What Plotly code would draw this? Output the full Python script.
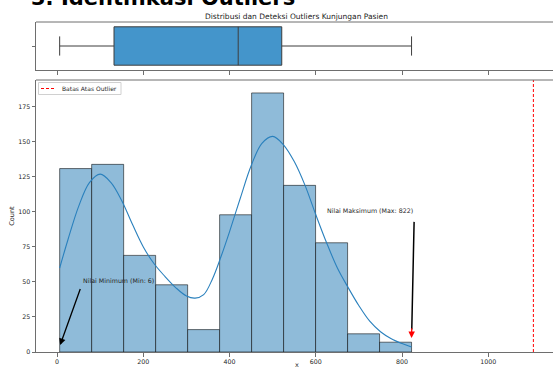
import numpy as np
import plotly.graph_objects as go

# ---------------- data ----------------
data_min = 6
data_max = 822
q1 = 132
median = 420
q3 = 521
bin_counts = [131, 134, 69, 48, 16, 98, 185, 119, 78, 13, 7]

kde_x = [6, 25, 50, 75, 100, 125, 150, 175, 200, 225, 250, 275, 300, 320, 340,
         360, 380, 400, 425, 450, 475, 500, 525, 550, 575, 600, 625, 650, 675,
         700, 725, 750, 775, 800, 822]
kde_y = [60, 80, 104, 121, 127, 121, 108, 91, 75, 63, 54, 46, 40, 38.5, 41,
         52, 68, 86, 110, 133, 149, 154, 148, 136, 119, 98, 78, 60, 46,
         33, 22, 14.5, 9.5, 6, 3.5]

x_ticks = [0, 200, 400, 600, 800, 1000]
y_ticks = [0, 25, 50, 75, 100, 125, 150, 175]

title_text = "Distribusi dan Deteksi Outliers Kunjungan Pasien"
header_text = "3. Identifikasi Outliers"
legend_label = "Batas Atas Outlier"

# ---------------- derived ----------------
iqr = q3 - q1
upper_bound = q3 + 1.5 * iqr
edges = np.linspace(data_min, data_max, len(bin_counts) + 1)
centers = (edges[:-1] + edges[1:]) / 2
bw = edges[1] - edges[0]
ymax = max(bin_counts) * 1.05
xr = [-48.9, 1150]

W, H = 553, 370
ml, mr, mt, mb = 36, 0, 22, 18
ph = H - mt - mb
pw = W - ml - mr


def py(pix):  # pixel y -> paper fraction
    return (H - mb - pix) / ph


def px(pix):
    return (pix - ml) / pw


FONT = "DejaVu Sans"
AX = "#6e6e6e"
TXT = "#262626"

fig = go.Figure()

fig.add_trace(go.Box(
    q1=[q1], median=[median], q3=[q3], lowerfence=[data_min], upperfence=[data_max],
    y=[0], orientation="h", width=0.8, whiskerwidth=0.5,
    fillcolor="#4495cb", line=dict(color="#3d3d3d", width=1),
    xaxis="x", yaxis="y", showlegend=False, boxpoints=False,
))

fig.add_trace(go.Bar(
    x=centers, y=bin_counts, width=bw,
    marker=dict(color="#8fbbd9", line=dict(color="rgba(0,0,0,0.55)", width=1)),
    xaxis="x2", yaxis="y2", showlegend=False,
))

fig.add_trace(go.Scatter(
    x=kde_x, y=kde_y, mode="lines", line=dict(color="#2a80bd", width=1.1, shape="spline"),
    xaxis="x2", yaxis="y2", showlegend=False,
))

fig.add_trace(go.Scatter(
    x=[upper_bound, upper_bound], y=[0, ymax], mode="lines",
    line=dict(color="#ff0000", width=1, dash="3px,2px"),
    xaxis="x2", yaxis="y2", name=legend_label, showlegend=False,
))

common_x = dict(range=xr, tickvals=x_ticks, ticks="outside", ticklen=3.5, tickcolor=AX,
                showline=True, linecolor=AX, linewidth=1, showgrid=False, zeroline=False,
                automargin=False, tickfont=dict(family=FONT, size=6.3, color=TXT))

fig.update_layout(
    width=W, height=H, margin=dict(l=ml, r=mr, t=mt, b=mb),
    paper_bgcolor="white", plot_bgcolor="white",
    xaxis=dict(domain=[0, 1], anchor="y", showticklabels=False, **common_x),
    yaxis=dict(domain=[py(70), 1], anchor="x", range=[-0.5, 0.5], tickvals=[0],
               showticklabels=False, ticks="outside", ticklen=3.5, tickcolor=AX,
               showline=True, linecolor=AX, showgrid=False, zeroline=False, automargin=False),
    xaxis2=dict(domain=[0, 1], anchor="y2", matches="x", **common_x),
    yaxis2=dict(domain=[0, py(80)], anchor="x2", range=[0, ymax], tickvals=y_ticks,
                ticks="outside", ticklen=3.5, tickcolor=AX, showline=True, linecolor=AX,
                showgrid=False, zeroline=False, automargin=False,
                tickfont=dict(family=FONT, size=6.3, color=TXT),
                title=dict(text="Count", font=dict(family=FONT, size=6.5, color=TXT), standoff=2)),
    showlegend=False,
)

# top spines
for yref in ["y domain", "y2 domain"]:
    fig.add_shape(type="line", xref="x domain", yref=yref, x0=0, x1=1, y0=1, y1=1,
                  line=dict(color=AX, width=1))

# legend box (drawn manually to match the compact matplotlib legend)
fig.add_shape(type="rect", xref="paper", yref="paper", x0=px(38.5), x1=px(121),
              y0=py(94.5), y1=py(82.5), line=dict(color="#d0d0d0", width=1),
              fillcolor="rgba(255,255,255,0.85)")
fig.add_shape(type="line", xref="paper", yref="paper", x0=px(41), x1=px(56),
              y0=py(88.5), y1=py(88.5), line=dict(color="#ff0000", width=1, dash="3px,2px"))
fig.add_annotation(text=legend_label, xref="paper", yref="paper", x=px(59.5), y=py(88.5),
                   xanchor="left", yanchor="middle", showarrow=False,
                   font=dict(family=FONT, size=6, color=TXT))

# x axis label (cut by the lower edge in the reference)
fig.add_annotation(text="x", xref="paper", yref="paper", x=px(296.5), y=py(365),
                   xanchor="center", yanchor="middle", showarrow=False,
                   font=dict(family=FONT, size=6.5, color=TXT))

# title and header
fig.add_annotation(text=title_text, xref="paper", yref="paper", x=px(296), y=py(16),
                   xanchor="center", yanchor="middle", showarrow=False,
                   font=dict(family=FONT, size=7.5, color="#222"))
fig.add_annotation(text=header_text, xref="paper", yref="paper", x=px(29), y=py(12),
                   xanchor="left", yanchor="bottom", showarrow=False,
                   font=dict(family=FONT, size=21, color="black", weight="bold"))

# min annotation
fig.add_annotation(text="Nilai Minimum (Min: %d)" % data_min, xref="x2", yref="y2",
                   x=data_min + 50, y=51, xanchor="left", yanchor="middle", showarrow=False,
                   font=dict(family=FONT, size=6.3, color=TXT))
fig.add_annotation(text="", xref="x2", yref="y2", axref="x2", ayref="y2",
                   x=data_min + 1, y=5, ax=data_min + 49, ay=46, showarrow=True,
                   arrowhead=2, arrowsize=1, arrowwidth=1.3, arrowcolor="black")

# max annotation
fig.add_annotation(text="Nilai Maksimum (Max: %d)" % data_max, xref="x2", yref="y2",
                   x=data_max - 200, y=101, xanchor="left", yanchor="middle", showarrow=False,
                   font=dict(family=FONT, size=6.3, color=TXT))
fig.add_annotation(text="", xref="x2", yref="y2", axref="x2", ayref="y2",
                   x=data_max + 0.5, y=16, ax=data_max + 6, ay=94, showarrow=True,
                   arrowhead=0, arrowwidth=1.5, arrowcolor="black")
fig.add_annotation(text="", xref="x2", yref="y2", axref="x2", ayref="y2",
                   x=data_max, y=10, ax=data_max + 0.5, ay=18, showarrow=True,
                   arrowhead=2, arrowsize=1, arrowwidth=1.3, arrowcolor="#ff0000")

fig.write_html("out.html", config={"displayModeBar": False},
               post_script="document.body.style.margin='0px';")
